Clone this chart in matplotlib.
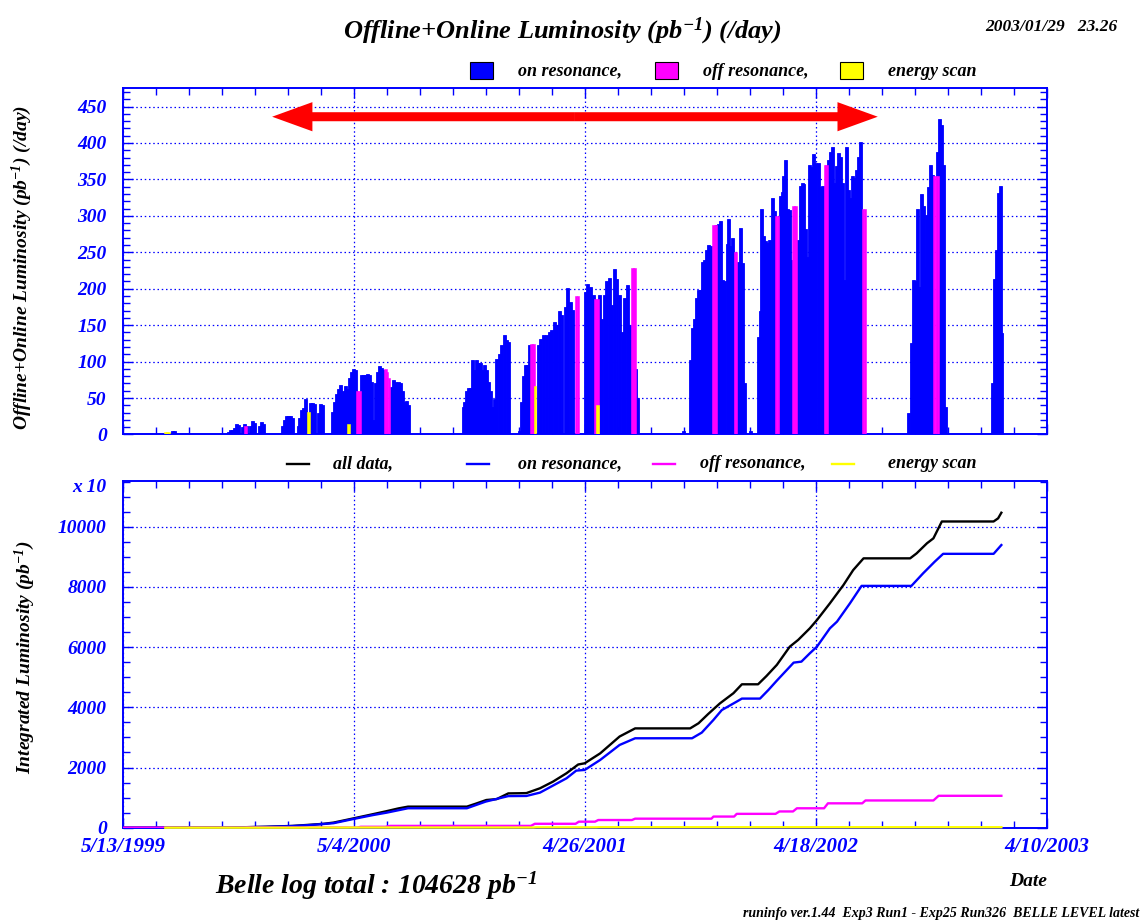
import matplotlib
matplotlib.use('Agg')
import matplotlib.pyplot as plt
from matplotlib.ticker import MultipleLocator, FixedLocator, FixedFormatter
from matplotlib.patches import Rectangle, FancyArrowPatch, ArrowStyle
from matplotlib.lines import Line2D

plt.rcParams['font.family'] = ['Liberation Serif', 'DejaVu Serif']
plt.rcParams['font.weight'] = 'bold'
plt.rcParams['font.style'] = 'italic'
plt.rcParams['mathtext.fontset'] = 'custom'
plt.rcParams['mathtext.rm'] = 'Liberation Serif:bold:italic'
plt.rcParams['mathtext.it'] = 'Liberation Serif:bold:italic'
plt.rcParams['mathtext.bf'] = 'Liberation Serif:bold:italic'

# x axis: days since 5/13/1999
date_ticks = [0, 357, 714, 1071, 1428]
date_labels = ['5/13/1999', '5/4/2000', '4/26/2001', '4/18/2002', '4/10/2003']

# daily luminosity (pb^-1 / day), on resonance
on_day = [76, 79,
          163, 166, 169, 172, 175, 178, 184, 187, 190, 197, 200, 203, 211, 214, 217,
          246, 249, 252, 255, 258, 261, 270, 273, 276, 279, 282, 289, 292, 295, 302, 305, 308,
          323, 326, 329, 332, 335, 338, 341, 344, 347, 350, 353, 356, 359,
          368, 371, 374, 377, 380, 383, 386, 390, 393, 396, 399, 402,
          414, 417, 420, 423, 426, 429, 432, 435, 438, 441,
          525, 528, 531, 534, 537, 540, 543, 546, 549, 552, 555, 558, 561, 564, 567,
          570, 573, 577, 581, 585, 589, 593, 596,
          612, 616, 619, 622, 625, 628,
          641, 645, 650, 654, 658, 662, 666, 670, 674, 678, 683, 687, 691, 695,
          714, 718, 722, 726, 736, 739, 743, 747, 751, 755, 759, 763, 767, 771, 775, 779, 783, 792, 795,
          866, 877, 880, 883, 886, 889, 892, 895, 898, 902, 905, 908, 917, 920, 923, 926, 929,
          933, 936, 939, 942, 950, 954, 957, 960, 970,
          981, 984, 987, 990, 993, 996, 999, 1003, 1006, 1015, 1018, 1021, 1024, 1027, 1030, 1033,
          1042, 1046, 1049, 1052, 1055, 1058, 1061, 1064, 1067, 1070, 1074, 1077, 1080,
          1090, 1093, 1096, 1099, 1102, 1105, 1109, 1112, 1115, 1118, 1121, 1124, 1127, 1130,
          1133, 1136, 1139,
          1214, 1218, 1221, 1224, 1227, 1230, 1233, 1236, 1239, 1242, 1245, 1248, 1251, 1259,
          1262, 1265, 1268, 1271,
          1343, 1346, 1349, 1352, 1355, 1358]
on_lum = [5, 5,
          4, 6, 6, 9, 14, 13, 10, 14, 12, 12, 18, 16, 12, 17, 15,
          12, 20, 25, 25, 25, 22, 12, 22, 33, 36, 49, 43, 43, 42, 30, 42, 40,
          31, 45, 56, 63, 68, 54, 60, 66, 63, 77, 86, 90, 88,
          82, 82, 82, 83, 82, 72, 20, 70, 86, 94, 91, 88,
          65, 75, 72, 65, 72, 70, 59, 45, 46, 40,
          38, 45, 60, 64, 64, 102, 88, 102, 98, 98, 88, 96, 88, 72, 59,
          38, 49, 104, 111, 123, 136, 130, 127,
          5, 45, 80, 95, 95, 123,
          123, 131, 136, 137, 140, 143, 155, 150, 169, 164, 175, 201, 182, 171,
          196, 206, 203, 192, 192, 159, 192, 210, 215, 178, 227, 213, 192, 141, 187, 205, 150, 90, 50,
          5, 102, 146, 159, 187, 198, 198, 237, 240, 253, 260, 258, 288, 289, 293, 212, 210,
          262, 295, 258, 269, 237, 283, 235, 70, 5,
          134, 169, 309, 272, 265, 263, 267, 324, 306, 327, 333, 354, 377, 310, 308, 240,
          267, 341, 345, 344, 282, 244, 370, 367, 385, 372, 372, 340, 341,
          377, 387, 394, 345, 368, 386, 381, 345, 212, 394, 336, 324, 354, 352,
          363, 381, 401,
          29, 125, 212, 210, 309, 203, 330, 314, 230, 301, 339, 370, 356, 387,
          433, 424, 370, 38,
          70, 214, 253, 331, 341, 139]

# off resonance
off_day = [189, 362, 365, 405, 408, 411, 631, 634, 700, 703, 730, 733, 787, 790,
           912, 915, 946, 1009, 1012, 1036, 1039, 1084, 1087, 1143, 1146, 1253, 1256, 1259]
off_lum = [12, 59, 59, 90, 86, 77, 124, 124, 190, 190, 186, 186, 229, 229,
           288, 288, 251, 300, 300, 314, 314, 370, 370, 310, 310, 355, 355, 355]

# energy scan
scan_day = [65, 68, 71, 286, 348, 636, 733]
scan_lum = [3, 3, 3, 31, 15, 66, 40]

# integrated luminosity (x 10 pb^-1)
all_day = [0, 60, 80, 163, 220, 262, 290, 310, 325, 358, 386, 407, 425, 440, 531, 545, 561,
           577, 595, 612, 623, 644, 664, 685, 703, 713, 737, 767, 791, 876, 889, 904, 922,
           943, 956, 981, 994, 1010, 1030, 1043, 1061, 1072, 1092, 1113, 1128, 1144, 1216,
           1226, 1242, 1252, 1265, 1345, 1352, 1357]
all_int = [0, 0, 5, 6, 30, 60, 100, 130, 170, 320, 450, 550, 640, 700, 700, 800, 920,
           950, 1140, 1145, 1150, 1310, 1530, 1810, 2100, 2140, 2470, 3030, 3300, 3300, 3470,
           3780, 4130, 4470, 4765, 4765, 5040, 5410, 6015, 6240, 6625, 6900, 7455, 8065, 8560,
           8950, 8950, 9115, 9450, 9615, 10175, 10175, 10280, 10466]

on_int_day = [0, 80, 163, 220, 262, 290, 325, 358, 386, 407, 440, 531, 560, 595, 623, 644,
              685, 700, 713, 737, 767, 791, 879, 894, 912, 925, 948, 956, 984, 997, 1010,
              1036, 1048, 1061, 1072, 1092, 1103, 1123, 1141, 1218, 1236, 1254, 1267, 1345, 1357]
on_int = [0, 5, 6, 28, 55, 90, 150, 300, 420, 500, 646, 646, 867, 1050, 1055, 1166,
          1642, 1897, 1919, 2251, 2749, 2971, 2972, 3160, 3580, 3910, 4190, 4290, 4290, 4577,
          4887, 5485, 5518, 5795, 6016, 6625, 6847, 7455, 8035, 8035, 8451, 8839, 9100, 9100, 9392]

off_int_day = [0, 187, 191, 361, 367, 405, 412, 630, 636, 699, 704, 729, 734, 786, 791,
               909, 912, 944, 948, 1008, 1014, 1035, 1041, 1083, 1089, 1142, 1147, 1252,
               1260, 1357]
off_int = [0, 0, 5, 5, 30, 30, 60, 60, 130, 130, 200, 200, 255, 255, 300,
           300, 370, 370, 460, 460, 540, 540, 645, 645, 810, 810, 905, 905,
           1060, 1060]

scan_int_day = [65, 74, 284, 289, 346, 350, 634, 638, 731, 735, 1357]
scan_int = [0, 1, 1, 4, 4, 6, 6, 12, 12, 16, 16]

W, H = 1140, 923


def fx(px):
    return px / W


def fy(py):
    return 1 - py / H


def style_axes(ax, ymax, ymajor, yminor):
    ax.set_xlim(0, 1428)
    ax.set_ylim(0, ymax)
    ax.xaxis.set_major_locator(FixedLocator(date_ticks))
    ax.xaxis.set_major_formatter(FixedFormatter(date_labels))
    ax.xaxis.set_minor_locator(MultipleLocator(51))
    ax.yaxis.set_major_locator(MultipleLocator(ymajor))
    ax.yaxis.set_minor_locator(MultipleLocator(yminor))
    ax.tick_params(which='both', direction='in', top=True, right=True,
                   colors='blue', labelcolor='blue', labelsize=14)
    ax.tick_params(axis='x', labelsize=15, pad=7)
    ax.tick_params(which='major', length=7, width=1)
    ax.tick_params(which='minor', length=5, width=1)
    ax.tick_params(axis='y', pad=12)
    for sp in ax.spines.values():
        sp.set_color('blue')
        sp.set_linewidth(1.4)
    ax.set_axisbelow(True)
    ax.grid(which='major', color='blue', linestyle=(0, (1.2, 2.2)), linewidth=0.9)


fig = plt.figure(figsize=(W / 100, H / 100), dpi=100)
ax1 = fig.add_axes([fx(123.3), fy(434.5), fx(1047.3) - fx(123.3), fy(88.3) - fy(434.5)])
ax2 = fig.add_axes([fx(123.3), fy(827.7), fx(1047.3) - fx(123.3), fy(481) - fy(827.7)])

# daily bars (edge in same colour to close the seams between neighbours)
ax1.bar(on_day, on_lum, width=4.6, color='blue', edgecolor='blue', linewidth=0.6, zorder=2)
ax1.bar(off_day, off_lum, width=3.6, color='magenta', edgecolor='magenta', linewidth=0.4, zorder=3)
ax1.bar(scan_day, scan_lum, width=3.6, color='yellow', edgecolor='yellow', linewidth=0.4, zorder=4)
style_axes(ax1, 475, 50, 10)
ax1.tick_params(labelbottom=False)

# red double arrow
arrow_style = ArrowStyle.Simple(head_length=29, head_width=21, tail_width=6.5)
for end in (230, 1166):
    ax1.add_patch(FancyArrowPatch((698, 436), (end, 436), arrowstyle=arrow_style,
                                  mutation_scale=1, color='red', lw=0,
                                  shrinkA=0, shrinkB=0, zorder=5))

# integrated luminosity
ax2.plot(all_day, all_int, color='black', lw=1.7, zorder=3)
ax2.plot(on_int_day, on_int, color='blue', lw=1.7, zorder=3)
ax2.plot(off_int_day, off_int, color='magenta', lw=1.7, zorder=3)
ax2.plot(scan_int_day, scan_int, color='yellow', lw=1.7, zorder=6, clip_on=False)
style_axes(ax2, 11520, 2000, 500)

# texts
fig.text(fx(562), fy(31), 'Offline+Online Luminosity (pb$^{-1}$) (/day)',
         ha='center', va='center', fontsize=19)
fig.text(fx(985), fy(27), '2003/01/29   23.26', ha='left', va='center', fontsize=12.5)
fig.text(fx(22), fy(268), 'Offline+Online Luminosity (pb$^{-1}$) (/day)',
         rotation=90, ha='center', va='center', fontsize=14)
fig.text(fx(25), fy(657), 'Integrated Luminosity (pb$^{-1}$)',
         rotation=90, ha='center', va='center', fontsize=14)
fig.text(fx(106), fy(487), 'x 10', color='blue', ha='right', va='center', fontsize=14)
fig.text(fx(215), fy(886), 'Belle log total : 104628 pb$^{-1}$',
         ha='left', va='center', fontsize=20)
fig.text(fx(1047), fy(881), 'Date', ha='right', va='center', fontsize=14)
fig.text(fx(1139), fy(913), 'runinfo ver.1.44  Exp3 Run1 - Exp25 Run326  BELLE LEVEL latest',
         ha='right', va='center', fontsize=10)

# top legend (boxes)
top_leg = [('blue', 'on resonance,', 470, 518),
           ('magenta', 'off resonance,', 655, 703),
           ('yellow', 'energy scan', 840, 888)]
for col, txt, bx, tx in top_leg:
    fig.patches.append(Rectangle((fx(bx), fy(79)), fx(23), fy(62) - fy(79),
                                 transform=fig.transFigure, facecolor=col,
                                 edgecolor='black', linewidth=0.8))
    fig.text(fx(tx), fy(71), txt, ha='left', va='center', fontsize=13)

# bottom legend (lines)
bot_leg = [('black', 'all data,', 287, 333),
           ('blue', 'on resonance,', 467, 518),
           ('magenta', 'off resonance,', 653, 700),
           ('yellow', 'energy scan', 832, 888)]
for col, txt, lx, tx in bot_leg:
    fig.lines.append(Line2D([fx(lx), fx(lx + 22)], [fy(464), fy(464)],
                            transform=fig.transFigure, color=col, lw=1.7))
    fig.text(fx(tx), fy(464), txt, ha='left', va='center', fontsize=13)

fig.savefig('out.png', dpi=100)
